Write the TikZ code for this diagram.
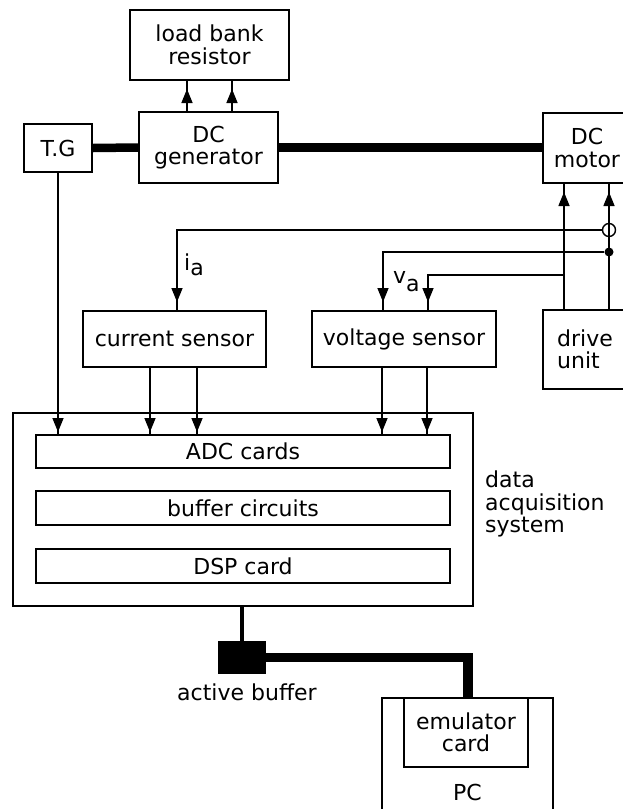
\documentclass[tikz,border=0pt]{standalone}
\usepackage{fontspec}
\setmainfont{DejaVu Sans}
\usetikzlibrary{arrows.meta}
\tikzset{
  txt/.style={inner sep=0pt, align=center, font=\fontsize{22}{22.5}\selectfont},
  blk/.style={txt, draw, line width=2pt},
  wire/.style={line width=1.5pt},
  tip/.tip={Triangle[length=14pt,width=11pt]},
  arr/.style={wire, postaction={draw, -tip, shorten >=#1}},
  arr/.default=8pt,
  shaft/.style={line width=8.5pt},
  bus/.style={line width=9.5pt, line join=miter},
  jdot/.style={circle, fill, inner sep=0pt, minimum size=9pt},
  ring/.style={circle, draw, inner sep=0pt, minimum size=13pt, line width=1.4pt},
}
\begin{document}
\begin{tikzpicture}[x=1pt,y=-1pt]
\useasboundingbox (0,0) rectangle (623,809);
\clip (0,0) rectangle (623,809);
\fill[white] (0,0) rectangle (623,809);

% top row
\node[blk, minimum width=159pt, minimum height=70pt] (load) at (209.5,45) {load bank\\resistor};
\node[blk, minimum width=68pt, minimum height=48pt] (tg) at (58,148) {T.G};
\node[blk, minimum width=139pt, minimum height=71pt] (gen) at (208.5,147.5) {DC\\generator};
\node[blk, minimum width=88pt, minimum height=70pt] (motor) at (587,148) {DC\\motor};

% sensors and drive
\node[blk, minimum width=183pt, minimum height=56pt] (cs) at (174.5,339) {current sensor};
\node[blk, minimum width=184pt, minimum height=56pt] (vs) at (404,339) {voltage sensor};
\node[blk, minimum width=84pt, minimum height=79pt, align=left] (drive) at (585,349.5) {drive\\unit};

% data acquisition system
\node[blk, line width=2.3pt, minimum width=460pt, minimum height=193pt] (das) at (243,509.5) {};
\node[blk, minimum width=414pt, minimum height=33pt] (adc) at (243,451.5) {ADC cards};
\node[blk, minimum width=414pt, minimum height=34pt] (buf) at (243,508) {buffer circuits};
\node[blk, minimum width=414pt, minimum height=34pt] (dsp) at (243,566) {DSP card};
\node[txt, align=left, anchor=north west] (daslbl) at (485,471) {data\\acquisition\\system};

% active buffer and PC
\node[fill, inner sep=0pt, minimum width=48pt, minimum height=33pt] (ab) at (242,657.5) {};
\node[txt] (ablbl) at (247,692) {active buffer};
\node[blk, minimum width=171pt, minimum height=124pt] (pc) at (467.5,760) {};
\node[blk, line width=2.5pt, minimum width=124pt, minimum height=69pt] (emu) at (466,732.5) {emulator\\card};
\node[txt] (pclbl) at (467.5,792) {PC};

% shafts
\draw[shaft] (tg.east) -- (gen.west);
\draw[shaft] (gen.east) -- (gen.east -| motor.west);

% generator to load bank
\draw[arr] (187,0 |- gen.north) -- (187,0 |- load.south);
\draw[arr] (232,0 |- gen.north) -- (232,0 |- load.south);

% drive unit to motor
\draw[arr] (564,0 |- drive.north) -- (564,0 |- motor.south);
\draw[arr] (609,0 |- drive.north) -- (609,0 |- motor.south);

% sensing wires
\node[ring] (ct) at (609,230) {};
\node[jdot] (j1) at (609,252) {};
\coordinate (j2) at (564,275);
\draw[arr] (ct.west) -- (177,230) -- (177,0 |- cs.north);
\draw[arr] (j1) -- (383,252) -- (383,0 |- vs.north);
\draw[arr] (j2) -- (428,275) -- (428,0 |- vs.north);
\node[txt, anchor=base west] (ia) at (184,270) {i\raisebox{-5pt}{a}};
\node[txt, anchor=base west] (va) at (393,283) {v\raisebox{-8pt}{a}};

% into ADC
\draw[arr=2pt] (tg.south) -- (tg.south |- adc.north);
\draw[arr=2pt] (150,0 |- cs.south) -- (150,0 |- adc.north);
\draw[arr=2pt] (197,0 |- cs.south) -- (197,0 |- adc.north);
\draw[arr=2pt] (382,0 |- vs.south) -- (382,0 |- adc.north);
\draw[arr=2pt] (427,0 |- vs.south) -- (427,0 |- adc.north);

% DAS to active buffer to PC
\draw[line width=3.5pt] (ab.north |- das.south) -- (ab.north);
\draw[bus] (ab.east) -| (468,0 |- emu.north);
\end{tikzpicture}
\end{document}
